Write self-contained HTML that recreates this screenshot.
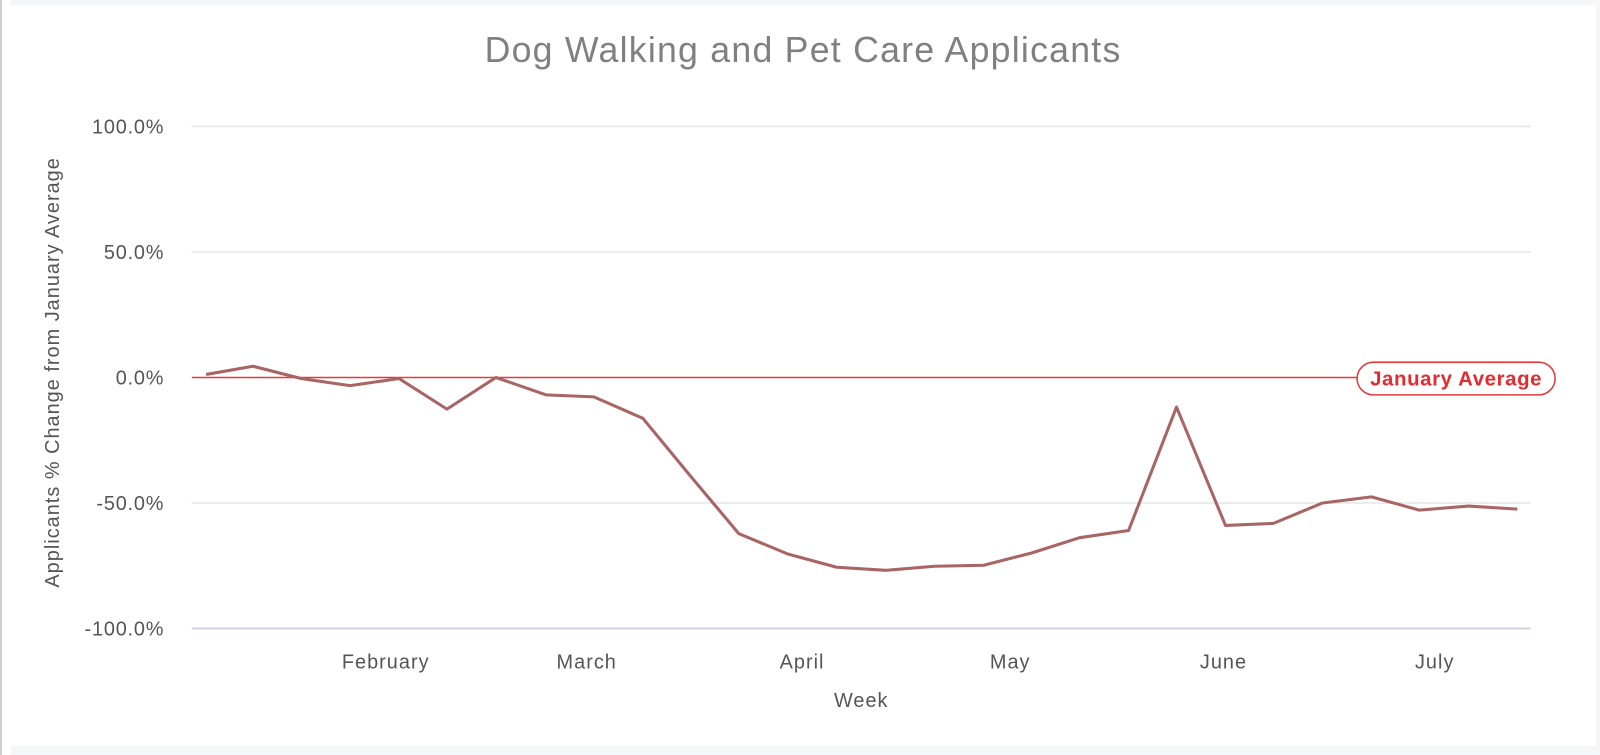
<!DOCTYPE html>
<html><head><style>
html,body{margin:0;padding:0;background:#fff;}
body{width:1600px;height:755px;position:relative;overflow:hidden;font-family:"Liberation Sans",sans-serif;}
</style></head><body>
<svg width="1600" height="755" viewBox="0 0 1568 740" preserveAspectRatio="none" xmlns="http://www.w3.org/2000/svg" style="position:absolute;left:0;top:0">
<rect x="0" y="0" width="1568" height="740" fill="#fff"/>
<rect x="11" y="0" width="1557" height="5" fill="#f5f6f8"/>
<rect x="11" y="731" width="1557" height="9" fill="#f5f6f8"/>
<rect x="1564" y="0" width="4" height="740" fill="#f5f6f8"/>
<rect x="0" y="0" width="2" height="740" fill="#cfcfcf"/>
<text x="787" y="61" text-anchor="middle" font-size="35" letter-spacing="1.2" fill="#808080">Dog Walking and Pet Care Applicants</text>
<g stroke="#e3e5ea" stroke-width="1.5">
<line x1="188" y1="124" x2="1500" y2="124"/>
<line x1="188" y1="247" x2="1500" y2="247"/>
<line x1="188" y1="493" x2="1500" y2="493"/>
</g>
<line x1="188" y1="616" x2="1500" y2="616" stroke="#cdd3e0" stroke-width="2"/>
<g font-size="19.5" fill="#555" text-anchor="end" letter-spacing="0.8">
<text x="161" y="131">100.0%</text>
<text x="161" y="254">50.0%</text>
<text x="161" y="377">0.0%</text>
<text x="161" y="500">-50.0%</text>
<text x="161" y="623">-100.0%</text>
</g>
<text transform="translate(58,365) rotate(-90)" text-anchor="middle" font-size="19.5" letter-spacing="1" fill="#555">Applicants % Change from January Average</text>
<g font-size="19.5" fill="#555" text-anchor="middle" letter-spacing="1">
<text x="378" y="655">February</text>
<text x="575" y="655">March</text>
<text x="786" y="655">April</text>
<text x="990" y="655">May</text>
<text x="1199" y="655">June</text>
<text x="1406" y="655">July</text>
<text x="844" y="693">Week</text>
</g>
<line x1="188" y1="370" x2="1332" y2="370" stroke="#e8383d" stroke-width="1.5"/>
<rect x="1330" y="355" width="194" height="32" rx="16" fill="#fff" stroke="#e8383d" stroke-width="1.5"/>
<text x="1427" y="378" text-anchor="middle" font-size="20" letter-spacing="0.6" font-weight="bold" fill="#e52a2f">January Average</text>
<polyline fill="none" stroke="#a96464" stroke-width="3" stroke-linejoin="round" points="202,367 248,359 295,371 343,378 391,371 438,401 486,370 535,387 582,389 630,410 677,467 724,523 772,543 820,556 868,559 916,555 964,554 1011,542 1058,527 1106,520 1153,399 1201,515 1248,513 1296,493 1344,487 1391,500 1439,496 1487,499"/>
</svg>
</body></html>
